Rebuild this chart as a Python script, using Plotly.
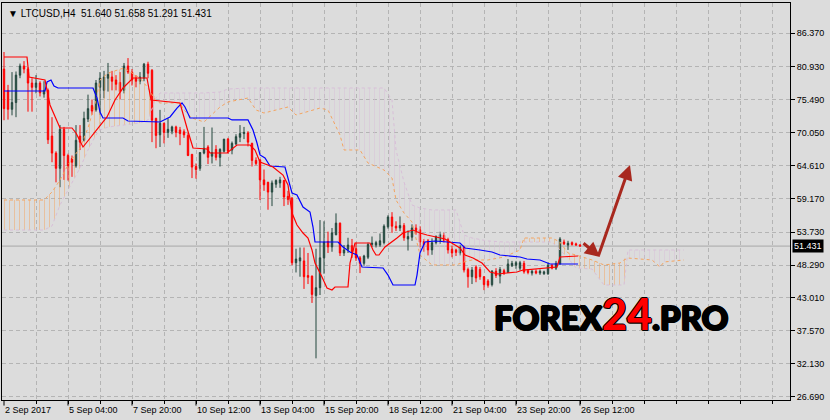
import numpy as np
import plotly.graph_objects as go

# ---------------- data ----------------
opens = [80.5, 77.0, 73.9, 75.0, 79.5, 81.0, 80.5, 78.2, 77.5, 78.2, 76.4, 77.0, 69.5, 66.7, 64.2, 70.6, 66.3, 65.8, 64.6, 69.5,
         68.8, 72.3, 74.5, 73.8, 77.5, 77.0, 79.0, 79.2, 78.7, 78.3, 77.0, 81.0, 80.0, 79.0, 78.5, 79.0, 81.3, 80.3, 72.4, 69.7,
         71.6, 70.1, 70.3, 71.0, 70.5, 70.2, 69.6, 66.5, 64.5, 64.2, 66.7, 67.7, 66.2, 67.3, 66.0, 67.0, 69.0, 67.2, 68.2, 69.3,
         69.9, 70.0, 68.3, 65.5, 65.6, 62.3, 61.9, 60.3, 61.6, 61.8, 62.2, 59.6, 59.3, 48.7, 49.0, 49.0, 46.6, 46.5, 43.3, 44.6,
         49.5, 52.2, 51.3, 53.3, 55.2, 50.3, 50.9, 51.5, 51.0, 49.5, 48.6, 49.6, 51.7, 51.6, 51.6, 52.0, 54.6, 56.2, 54.7, 54.4,
         54.8, 52.6, 52.9, 54.4, 54.1, 52.2, 52.3, 50.8, 52.0, 52.2, 53.2, 52.5, 50.9, 50.8, 50.3, 51.3, 47.6, 46.4, 48.0, 47.6,
         46.4, 45.7, 45.1, 47.3, 46.5, 47.4, 47.1, 48.2, 48.3, 47.8, 48.6, 47.4, 47.0, 47.3, 47.0, 46.9, 46.9, 48.3, 47.8, 48.5,
         52.1, 51.6, 52.0, 51.8, 51.640]
highs = [83.3, 77.9, 80.0, 80.1, 81.4, 81.8, 80.8, 79.0, 79.5, 78.5, 78.5, 77.3, 72.6, 67.0, 71.3, 71.0, 66.6, 66.3, 71.3, 71.3,
         73.5, 76.3, 75.5, 78.7, 80.0, 80.2, 81.5, 80.2, 79.5, 80.0, 81.5, 82.3, 80.5, 79.5, 80.0, 81.5, 81.7, 80.5, 72.5, 73.8,
         71.7, 72.4, 71.2, 71.2, 71.0, 70.6, 70.0, 66.5, 65.0, 66.8, 71.0, 68.0, 70.9, 68.0, 67.5, 69.0, 69.2, 68.6, 69.8, 71.3,
         71.0, 70.3, 68.4, 66.0, 65.6, 64.0, 62.0, 62.2, 62.4, 62.8, 62.3, 60.5, 59.5, 51.0, 51.2, 51.2, 50.3, 46.6, 51.0, 55.7,
         55.5, 53.8, 54.4, 56.8, 55.3, 51.6, 52.8, 52.6, 52.0, 49.8, 50.0, 52.0, 53.0, 52.3, 53.5, 55.0, 56.5, 57.0, 55.5, 56.3,
         55.2, 54.0, 55.0, 55.0, 54.7, 52.6, 52.6, 52.7, 53.2, 53.8, 53.6, 52.8, 51.5, 51.0, 51.6, 51.5, 47.9, 48.0, 48.3, 48.0,
         46.5, 46.0, 47.5, 47.8, 48.0, 47.7, 49.3, 49.0, 49.0, 49.0, 49.0, 47.6, 47.5, 47.6, 47.6, 47.4, 48.7, 48.5, 49.0, 52.9,
         52.5, 52.3, 52.2, 52.0, 51.658]
lows = [72.1, 72.2, 72.9, 72.6, 79.0, 79.8, 73.5, 73.5, 76.5, 76.0, 75.8, 68.2, 65.2, 61.9, 61.1, 62.3, 62.2, 62.8, 64.3, 67.2,
        68.6, 71.8, 73.0, 73.5, 73.0, 75.7, 76.8, 77.0, 77.0, 75.5, 76.5, 79.7, 77.8, 77.5, 78.0, 78.5, 79.0, 68.5, 67.5, 67.7,
        68.3, 69.2, 69.8, 69.3, 68.0, 69.2, 66.2, 62.6, 62.5, 63.8, 66.5, 64.9, 65.0, 65.5, 64.5, 66.8, 66.6, 66.5, 68.0, 68.5,
        69.0, 67.8, 64.5, 64.7, 59.0, 60.5, 57.4, 58.0, 61.0, 61.0, 58.0, 58.2, 48.3, 47.1, 46.4, 44.4, 45.2, 42.1, 33.0, 43.4,
        46.9, 50.3, 50.5, 53.2, 49.8, 49.8, 50.3, 49.5, 49.0, 47.0, 48.2, 49.3, 51.3, 51.2, 51.3, 51.7, 54.3, 53.6, 53.9, 53.9,
        52.3, 50.7, 52.3, 53.3, 51.2, 50.5, 49.9, 50.0, 51.7, 51.8, 52.0, 50.2, 49.6, 49.8, 49.9, 47.1, 44.6, 45.2, 45.5, 45.9,
        44.2, 44.6, 44.8, 46.2, 45.3, 46.7, 47.0, 48.0, 47.7, 47.4, 46.9, 46.8, 46.6, 46.8, 46.7, 46.7, 46.7, 47.6, 47.5, 48.4,
        51.6, 50.8, 51.5, 51.5, 51.291]
closes = [74.0, 73.9, 75.0, 79.5, 81.0, 80.5, 78.2, 77.5, 78.2, 76.6, 77.0, 68.9, 66.7, 64.2, 70.6, 66.3, 64.6, 65.2, 68.8, 68.5,
          72.4, 74.0, 73.6, 78.2, 79.0, 79.2, 79.6, 78.5, 78.0, 76.8, 81.0, 80.0, 78.7, 78.5, 79.2, 81.3, 79.8, 72.1, 69.6, 71.6,
          70.1, 70.6, 71.0, 70.1, 69.9, 69.7, 66.3, 64.4, 64.0, 66.8, 67.5, 66.0, 66.8, 66.0, 67.3, 69.0, 67.0, 68.3, 69.4, 69.9,
          70.1, 68.5, 65.5, 65.0, 62.3, 61.5, 60.3, 61.8, 62.2, 62.3, 59.5, 59.1, 48.7, 49.3, 49.5, 46.4, 46.3, 43.5, 44.6, 49.5,
          52.1, 51.3, 53.6, 55.2, 50.3, 50.8, 51.6, 50.5, 49.5, 48.6, 49.8, 51.7, 51.9, 52.0, 52.3, 54.7, 56.2, 54.7, 54.4, 54.8,
          52.8, 53.0, 54.4, 54.0, 52.1, 51.6, 50.8, 52.0, 53.0, 53.3, 52.3, 50.8, 50.3, 50.4, 51.3, 47.5, 46.4, 47.5, 46.2, 46.4,
          45.1, 45.0, 47.3, 46.6, 47.6, 47.0, 48.5, 48.6, 48.7, 48.7, 47.2, 47.1, 47.3, 47.0, 47.3, 47.2, 48.3, 47.8, 48.6, 52.6,
          51.8, 51.9, 51.7, 51.6, 51.431]

# Ichimoku lines (bar index, price)
tenkan_idx = [0, 5.75, 6.25, 10.25, 11.5, 14, 17, 18, 19.75, 23.25, 25.75, 27.75, 29.75, 32.25, 35.75, 36.75, 44, 45.75,
              47.25, 50.75, 51.5, 55.75, 58.25, 61.5, 62.75, 64, 67.25, 69.75, 71, 72, 73.25, 74.75, 76, 77, 77.75, 79.5,
              80.75, 82, 82.75, 86, 86.5, 87.75, 91.5, 92.25, 93, 93.75, 95.25, 98.25, 99.75, 102.25, 104, 105.75, 107.75,
              110.25, 114, 115.25, 117.25, 119.5, 121.5, 123.5, 125.75, 128.25, 129.75, 136.5, 138.25, 139, 143.5]
tenkan_val = [82.48, 82.48, 79.19, 78.70, 74.60, 70.82, 70.82, 70.00, 67.70, 70.49, 72.63, 75.42, 77.39, 79.03, 79.03, 75.42,
              74.93, 70.82, 67.54, 67.37, 66.72, 66.72, 68.03, 68.03, 67.21, 65.24, 64.42, 63.10, 61.46, 56.86, 54.89, 53.58,
              52.76, 50.79, 48.65, 46.35, 44.55, 44.22, 44.71, 44.71, 48.65, 51.94, 51.94, 50.79, 49.97, 49.97, 51.28, 52.76,
              53.58, 54.07, 53.58, 53.25, 52.92, 52.59, 51.12, 49.97, 49.47, 48.65, 47.18, 46.85, 47.01, 47.18, 47.50, 47.83,
              48.00, 49.64, 49.80]
kijun_idx = [0, 10.25, 10.75, 11.75, 12.5, 13.5, 22.25, 23.25, 24, 24.75, 29.75, 31, 39, 41.5, 43.25, 44.5, 45.25, 46.5, 56,
             57, 61, 62.25, 63.25, 64, 65.25, 66.5, 70.25, 71, 72, 73.25, 74.75, 76.5, 77.25, 77.75, 83.5, 84.75, 86.5, 88.25,
             89.5, 94.75, 96, 97.25, 102.75, 103.25, 104, 105.25, 107.75, 114, 115.25, 119, 122, 124, 129, 130.75, 134,
             136.5, 143.5]
kijun_val = [76.90, 76.90, 78.37, 78.70, 77.72, 77.39, 77.39, 75.75, 73.45, 72.46, 72.46, 71.97, 71.81, 72.63, 74.10, 74.93,
             74.27, 72.46, 72.46, 72.14, 72.14, 70.49, 68.36, 66.39, 65.90, 64.58, 64.42, 62.77, 60.15, 59.82, 57.85, 57.03,
             54.56, 52.10, 52.10, 51.28, 50.46, 49.97, 48.00, 47.83, 46.68, 45.04, 45.04, 46.68, 50.30, 52.10, 52.27, 51.94,
             51.12, 50.79, 50.46, 49.97, 49.64, 49.31, 49.15, 48.49, 48.49]
cloud_idx = [0, 10, 12, 14, 16, 19, 21, 23, 24, 26, 30, 34, 36, 38, 39, 44, 45, 47, 50, 54, 56, 61, 63, 65, 71, 73, 79, 81,
             84, 85, 89, 91, 95, 97, 98, 100, 102, 104, 107, 113, 115, 117, 121, 125, 129, 130, 137, 139, 141, 143, 147,
             150, 154, 155, 156, 162, 164, 165, 170]
span_a = [59.00, 59.00, 60.31, 62.28, 64.75, 67.54, 70.82, 75.42, 78.70, 79.85, 80.67, 79.03, 77.39, 75.25, 74.93, 74.93,
          73.78, 72.46, 71.81, 74.27, 75.09, 75.75, 73.78, 73.28, 74.27, 72.96, 74.10, 73.78, 69.67, 67.21, 67.21, 65.07,
          63.92, 62.61, 59.00, 56.86, 55.39, 49.97, 48.33, 48.33, 48.82, 49.15, 49.15, 49.64, 50.79, 52.76, 52.76, 52.10,
          50.30, 49.97, 49.15, 48.33, 48.65, 49.15, 49.47, 49.15, 48.00, 48.82, 49.15]
span_b = [54.07, 54.07, 54.73, 58.18, 60.64, 64.25, 67.21, 69.67, 70.49, 70.98, 71.31, 71.64, 72.14, 75.75, 76.57, 76.57,
          76.57, 76.57, 76.57, 76.73, 77.22, 77.39, 77.39, 77.39, 77.39, 77.39, 77.39, 77.39, 77.39, 77.39, 77.39, 77.39,
          77.39, 75.42, 67.21, 61.95, 58.18, 57.69, 57.36, 57.36, 53.25, 52.76, 52.27, 52.10, 52.10, 52.10, 52.10, 50.79,
          49.47, 47.83, 47.67, 45.04, 45.04, 45.04, 50.79, 50.79, 50.79, 50.79, 50.79]

y_ticks = [26.69, 32.13, 37.57, 43.01, 48.29, 53.73, 59.17, 64.61, 70.05, 75.49, 80.93, 86.37]
x_label_idx = [0, 16, 32, 48, 64, 80, 96, 112, 128, 144]
x_labels = ["2 Sep 2017", "5 Sep 04:00", "7 Sep 20:00", "10 Sep 12:00", "13 Sep 04:00", "15 Sep 20:00",
            "18 Sep 12:00", "21 Sep 04:00", "23 Sep 20:00", "26 Sep 12:00"]
symbol = "LTCUSD,H4"
# forecast arrows: (from_idx, from_price, to_idx, to_price)
arrows = [(144.5, 52.10, 149.0, 49.64), (148.5, 49.64, 156.5, 64.75)]

# ---------------- figure ----------------
BG = "#dcdcdc"
GRID = "#b4b4b4"
FONT = "Liberation Sans, Arial, sans-serif"
bars = list(range(len(opens)))
a = np.array(span_a)
b = np.array(span_b)
top = np.maximum(a, b)

fig = go.Figure()
# Kumo cloud (hatched)
fig.add_trace(go.Scatter(x=cloud_idx, y=b, mode="lines", line=dict(width=0), hoverinfo="skip"))
fig.add_trace(go.Scatter(x=cloud_idx, y=top, mode="lines", line=dict(width=0), fill="tonexty",
                         fillcolor="rgba(0,0,0,0)",
                         fillpattern=dict(shape="|", fgcolor="#F4A460", bgcolor="rgba(0,0,0,0)", size=5, solidity=0.2),
                         hoverinfo="skip"))
fig.add_trace(go.Scatter(x=cloud_idx, y=a, mode="lines", line=dict(width=0), hoverinfo="skip"))
fig.add_trace(go.Scatter(x=cloud_idx, y=top, mode="lines", line=dict(width=0), fill="tonexty",
                         fillcolor="rgba(0,0,0,0)",
                         fillpattern=dict(shape="|", fgcolor="#D8BFD8", bgcolor="rgba(0,0,0,0)", size=5, solidity=0.2),
                         hoverinfo="skip"))
fig.add_trace(go.Scatter(x=cloud_idx, y=span_a, mode="lines", line=dict(color="#F4A460", width=1, dash="dot")))
fig.add_trace(go.Scatter(x=cloud_idx, y=span_b, mode="lines", line=dict(color="#D8BFD8", width=1, dash="dot")))

fig.add_trace(go.Candlestick(
    x=bars, open=opens, high=highs, low=lows, close=closes,
    increasing=dict(line=dict(color="#23463d", width=1), fillcolor="#2F5F50"),
    decreasing=dict(line=dict(color="#FF0000", width=1), fillcolor="#FF0000"),
    whiskerwidth=0, hoverinfo="skip"))

fig.add_trace(go.Scatter(x=kijun_idx, y=kijun_val, mode="lines", line=dict(color="#0000FF", width=1.2)))
fig.add_trace(go.Scatter(x=tenkan_idx, y=tenkan_val, mode="lines", line=dict(color="#FF0000", width=1.2)))

last_close = closes[-1]
shapes = [dict(type="line", xref="paper", x0=0, x1=1, yref="y", y0=last_close, y1=last_close,
               line=dict(color="#a8a8a8", width=1), layer="below")]
for xi in x_label_idx:
    shapes.append(dict(type="line", xref="x", x0=xi, x1=xi, yref="paper", y0=0, y1=-0.014,
                       line=dict(color="black", width=1)))

heavy = "1px 0 0 black, -1px 0 0 black, 0 1px 0 black, 0 -1px 0 black, 1px 1px 0 black"
annotations = [
    dict(xref="paper", yref="paper", x=0, y=1, xanchor="left", yanchor="top", xshift=4, yshift=-3,
         text="▼ %s  %.3f %.3f %.3f %.3f" % (symbol, opens[-1], highs[-1], lows[-1], closes[-1]),
         showarrow=False, font=dict(family=FONT, size=10, color="black")),
    dict(xref="paper", yref="y", x=1, y=last_close, xanchor="left", yanchor="middle", xshift=2,
         text="%.3f" % last_close, showarrow=False, bgcolor="black", borderpad=1,
         font=dict(family=FONT, size=9, color="white")),
    dict(xref="paper", yref="paper", x=0.7725, y=0.218, xanchor="center", yanchor="middle",
         text="FOREX<span style='color:#ff0000;font-size:43px'>24</span>.PRO", showarrow=False,
         font=dict(family="Lato, Roboto, sans-serif", size=33, color="black", weight=900, shadow=heavy)),
]
for xi, lab in zip(x_label_idx, x_labels):
    annotations.append(dict(xref="x", yref="paper", x=xi, y=0, xanchor="left", yanchor="top", xshift=-1, yshift=-3,
                            text=lab, showarrow=False, font=dict(family=FONT, size=9, color="black")))
for (x0, y0, x1, y1) in arrows:
    annotations.append(dict(xref="x", yref="y", axref="x", ayref="y", x=x1, y=y1, ax=x0, ay=y0, text="",
                            showarrow=True, arrowhead=2, arrowsize=1, arrowwidth=3, arrowcolor="#a8281e",
                            standoff=0, startstandoff=0))

fig.update_layout(
    width=830, height=420,
    margin=dict(l=2, r=40, t=3, b=20),
    paper_bgcolor=BG, plot_bgcolor=BG,
    showlegend=False, hovermode=False, boxgap=0.5,
    shapes=shapes, annotations=annotations,
    xaxis=dict(range=[-0.5, 196.5], rangeslider=dict(visible=False), tickmode="array",
               tickvals=list(range(8, 197, 8)), showticklabels=False, ticks="outside", ticklen=3,
               tickcolor="black", showgrid=True, gridcolor=GRID, griddash="4px,3px", gridwidth=1,
               showline=True, linecolor="black", linewidth=1, mirror=True, zeroline=False),
    yaxis=dict(range=[26.16, 91.345], side="right", tickmode="array", tickvals=y_ticks,
               ticktext=["%.3f" % v for v in y_ticks], ticks="outside", ticklen=4, tickcolor="black",
               tickfont=dict(family=FONT, size=9, color="black"), showgrid=True, gridcolor=GRID,
               griddash="4px,3px", gridwidth=1, showline=True, linecolor="black", linewidth=1, mirror=True,
               zeroline=False),
)

fig.write_html("out.html", config={"displayModeBar": False},
               post_script="document.body.style.margin='0';document.body.style.background='%s';" % BG)
